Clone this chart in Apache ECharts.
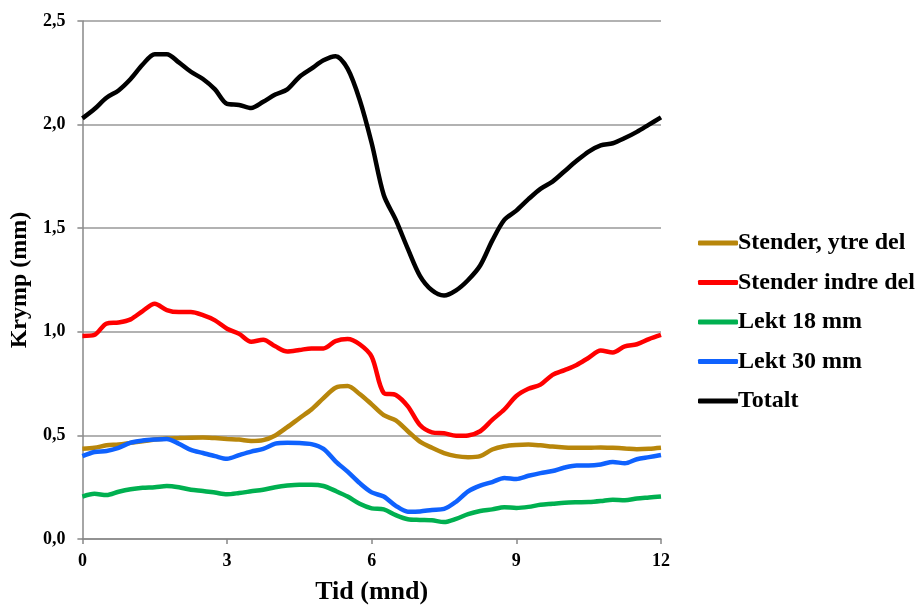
<!DOCTYPE html>
<html>
<head>
<meta charset="utf-8">
<script src="https://cdn.jsdelivr.net/npm/echarts@6/dist/echarts.min.js"></script>
<style>html,body{margin:0;padding:0;background:#fff;overflow:hidden}#c{width:917px;height:610px}</style>
</head>
<body>
<div id="c"></div>
<script>
var times = [0,0.25,0.5,0.75,1,1.25,1.5,1.75,2,2.25,2.5,2.75,3,3.25,3.5,3.75,4,4.25,4.5,4.75,5,5.25,5.5,5.75,6,6.25,6.5,6.75,7,7.25,7.5,7.75,8,8.25,8.5,8.75,9,9.25,9.5,9.75,10,10.25,10.5,10.75,11,11.25,11.5,11.75,12];
var seriesNames = ['Stender, ytre del','Stender indre del','Lekt 18 mm','Lekt 30 mm','Totalt'];
var xTicks = [0,3,6,9,12];
var yTicks = [0,0.5,1,1.5,2,2.5];

var stenderYtre = [0.435,0.44,0.452,0.456,0.464,0.472,0.48,0.485,0.487,0.489,0.49,0.487,0.483,0.48,0.473,0.477,0.50,0.54,0.583,0.625,0.68,0.73,0.738,0.70,0.65,0.598,0.572,0.52,0.47,0.44,0.415,0.40,0.395,0.40,0.432,0.448,0.454,0.456,0.452,0.446,0.442,0.44,0.44,0.442,0.44,0.437,0.433,0.435,0.44];
var stenderIndre = [0.98,0.985,1.04,1.045,1.06,1.10,1.135,1.105,1.095,1.095,1.08,1.055,1.015,0.99,0.952,0.962,0.93,0.905,0.912,0.92,0.92,0.955,0.965,0.94,0.88,0.705,0.695,0.64,0.55,0.515,0.51,0.498,0.50,0.52,0.575,0.625,0.69,0.725,0.745,0.792,0.815,0.84,0.875,0.91,0.90,0.93,0.94,0.965,0.985];
var lekt18 = [0.205,0.218,0.212,0.228,0.24,0.247,0.25,0.256,0.25,0.238,0.232,0.224,0.216,0.222,0.23,0.238,0.25,0.258,0.262,0.262,0.256,0.232,0.205,0.17,0.148,0.143,0.115,0.095,0.092,0.09,0.082,0.097,0.12,0.135,0.143,0.153,0.15,0.155,0.165,0.17,0.175,0.177,0.178,0.183,0.19,0.187,0.195,0.2,0.205];
var lekt30 = [0.40,0.42,0.425,0.44,0.465,0.475,0.48,0.483,0.46,0.43,0.415,0.40,0.387,0.405,0.422,0.435,0.46,0.465,0.463,0.458,0.435,0.375,0.325,0.27,0.225,0.205,0.16,0.132,0.133,0.14,0.145,0.18,0.23,0.258,0.275,0.295,0.29,0.305,0.318,0.328,0.345,0.355,0.355,0.36,0.372,0.365,0.385,0.395,0.405];
var totalt = [2.03,2.075,2.13,2.165,2.22,2.29,2.34,2.34,2.30,2.255,2.22,2.17,2.10,2.095,2.08,2.11,2.145,2.17,2.23,2.27,2.31,2.33,2.27,2.12,1.91,1.66,1.54,1.40,1.27,1.20,1.175,1.20,1.25,1.32,1.44,1.54,1.585,1.64,1.69,1.725,1.775,1.825,1.87,1.90,1.91,1.935,1.965,2.00,2.035];

var colors = ['#b8860b','#ff0000','#00b050','#0f62fe','#000000'];
var allData = [stenderYtre, stenderIndre, lekt18, lekt30, totalt];
var font = '"Liberation Serif", "Times New Roman", serif';

function pairs(vals){ return vals.map(function(v,i){ return [times[i], v]; }); }

var chart = echarts.init(document.getElementById('c'), null, {renderer:'canvas', width: 917, height: 610});
chart.setOption({
  animation: false,
  backgroundColor: '#fff',
  grid: {left: 82, right: 256, top: 21, bottom: 66, containLabel: false},
  xAxis: {
    type: 'value', min: 0, max: 12, interval: 3,
    name: 'Tid (mnd)', nameLocation: 'middle', nameGap: 40,
    nameTextStyle: {fontFamily: font, fontWeight: 'bold', fontSize: 26, color: '#000'},
    axisLine: {show: true, lineStyle: {color: '#888', width: 1.5}},
    axisTick: {show: true, length: 5, lineStyle: {color: '#888', width: 1.5}},
    axisLabel: {fontFamily: font, fontWeight: 'bold', fontSize: 18, color: '#000', margin: 13,
      formatter: function(v){ return xTicks.indexOf(v) >= 0 ? String(v) : ''; }},
    splitLine: {show: false}
  },
  yAxis: {
    type: 'value', min: 0, max: 2.5, interval: 0.5,
    name: 'Krymp (mm)', nameLocation: 'middle', nameGap: 50,
    nameTextStyle: {fontFamily: font, fontWeight: 'bold', fontSize: 24, color: '#000'},
    axisLine: {show: true, lineStyle: {color: '#888', width: 1.5}},
    axisTick: {show: true, length: 5, lineStyle: {color: '#888', width: 1.5}},
    axisLabel: {fontFamily: font, fontWeight: 'bold', fontSize: 18, color: '#000', margin: 17,
      formatter: function(v){ return yTicks.indexOf(v) >= 0 ? v.toFixed(1).replace('.', ',') : ''; }},
    splitLine: {show: true, lineStyle: {color: '#999', width: 1.5}}
  },
  legend: {
    orient: 'vertical', left: 693, top: 226,
    itemWidth: 40, itemHeight: 5, itemGap: 15.5,
    icon: 'roundRect',
    textStyle: {fontFamily: font, fontWeight: 'bold', fontSize: 24, color: '#000', padding: [0,0,0,-5], lineHeight: 24},
    data: seriesNames
  },
  series: allData.map(function(d, i){
    return {
      name: seriesNames[i], type: 'line', data: pairs(d),
      showSymbol: false, symbol: 'none', smooth: 0.3,
      lineStyle: {color: colors[i], width: 4.5},
      itemStyle: {color: colors[i]},
      z: 2 + i
    };
  })
});
</script>
</body>
</html>
